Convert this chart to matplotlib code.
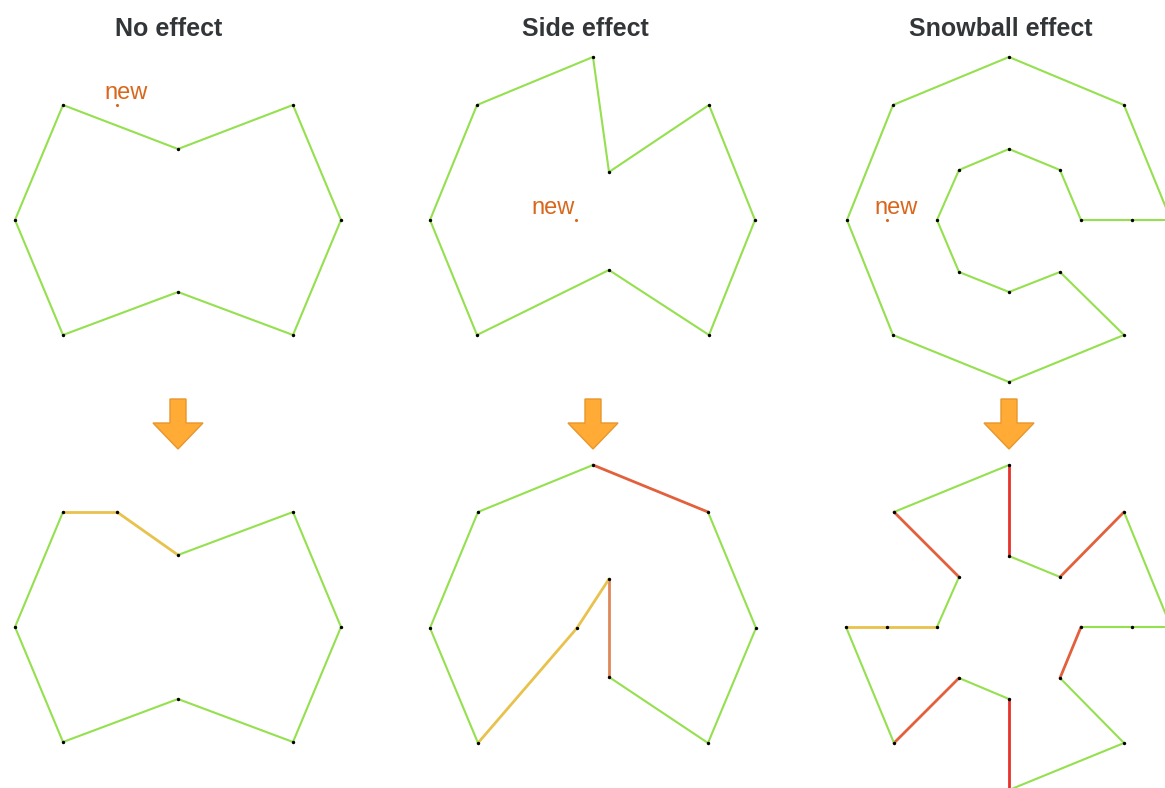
import numpy as np
import matplotlib
matplotlib.use("Agg")
from matplotlib import pyplot as plt
from matplotlib.patches import Polygon

#////////////////////Data\\\\\\\\\\\\\\\\\\\\
titles = ["No effect", "Side effect", "Snowball effect"]
title_x = [169, 585, 1001]

# polygon vertices (pixel coords), closed rings
no_top = [(63,105),(178,149),(293,105),(341,220),(293,335),(178,292),(63,335),(15,220)]
no_bot = [(63,512),(117,512),(178,555),(293,512),(341,627),(293,742),(178,699),(63,742),(15,627)]
no_bot_edges = "yyggggggg"

side_top = [(593,57),(609,172),(709,105),(755,220),(709,335),(609,270),(477,335),(430,220),(477,105)]
side_bot = [(593,465),(708,512),(756,628),(708,743),(609,677),(609,579),(577,628),(478,743),(430,628),(478,512)]
side_bot_edges = "rgggoyyggg"

snow_top = [(1009,57),(1124,105),(1171,220),(1132,220),(1081,220),(1060,170),(1009,149),(959,170),
            (937,220),(959,272),(1009,292),(1060,272),(1124,335),(1009,382),(893,335),(847,220),(893,105)]
snow_bot = [(1009,465),(1009,556),(1060,577),(1124,512),(1171,627),(1132,627),(1081,627),(1060,678),
            (1124,743),(1009,790),(1009,699),(959,678),(894,743),(846,627),(887,627),(937,627),
            (959,577),(894,512)]
snow_bot_edges = "RgrgggrggRgrgyygrg"

# the new point and where its label sits
new_pts = [(117,105),(576,220),(887,220)]
new_lbl = [(126,99),(553,214),(896,214)]
arrow_x = [178, 593, 1009]
#\\\\\\\\\\\\\\\\\\\\Data////////////////////

edge_col = {"g": "#94e04e", "y": "#e8c24c", "o": "#e0875a", "r": "#e2603c", "R": "#e8312b"}

fig = plt.figure(figsize=(11.65, 7.88), dpi=100)
ax = fig.add_axes([0, 0, 1, 1])
ax.set_xlim(0, 1165)
ax.set_ylim(788, 0)
ax.axis("off")

def draw_poly(pts, edges=None):
    n = len(pts)
    if edges is None:
        edges = "g" * n
    for i in range(n):
        a = pts[i]; b = pts[(i+1) % n]
        c = edges[i]
        lw = 1.5 if c == "g" else 2.0
        ax.plot([a[0], b[0]], [a[1], b[1]], color=edge_col[c], lw=lw, solid_capstyle="round", zorder=2)
    xs = [p[0] for p in pts]; ys = [p[1] for p in pts]
    ax.scatter(xs, ys, s=6, color="black", zorder=3, linewidths=0)

draw_poly(no_top)
draw_poly(no_bot, no_bot_edges)
draw_poly(side_top)
draw_poly(side_bot, side_bot_edges)
draw_poly(snow_top)
draw_poly(snow_bot, snow_bot_edges)

for (x, y), (lx, ly) in zip(new_pts, new_lbl):
    ax.scatter([x], [y], s=5, color="#d8671c", zorder=3, linewidths=0)
    ax.text(lx, ly, "new", color="#d8671c", fontsize=17, family="Liberation Sans",
            ha="center", va="baseline")

for t, x in zip(titles, title_x):
    ax.text(x, 29, t, fontsize=18, fontweight="bold", color="#333638", family="Liberation Sans",
            ha="center", va="center")

for x in arrow_x:
    arr = [(x-8,399),(x+8,399),(x+8,423),(x+25,423),(x,449),(x-25,423),(x-8,423)]
    ax.add_patch(Polygon(arr, closed=True, facecolor="#ffab36", edgecolor="#e8962e", lw=1.0, zorder=2))

plt.savefig("out.png", dpi=100)
